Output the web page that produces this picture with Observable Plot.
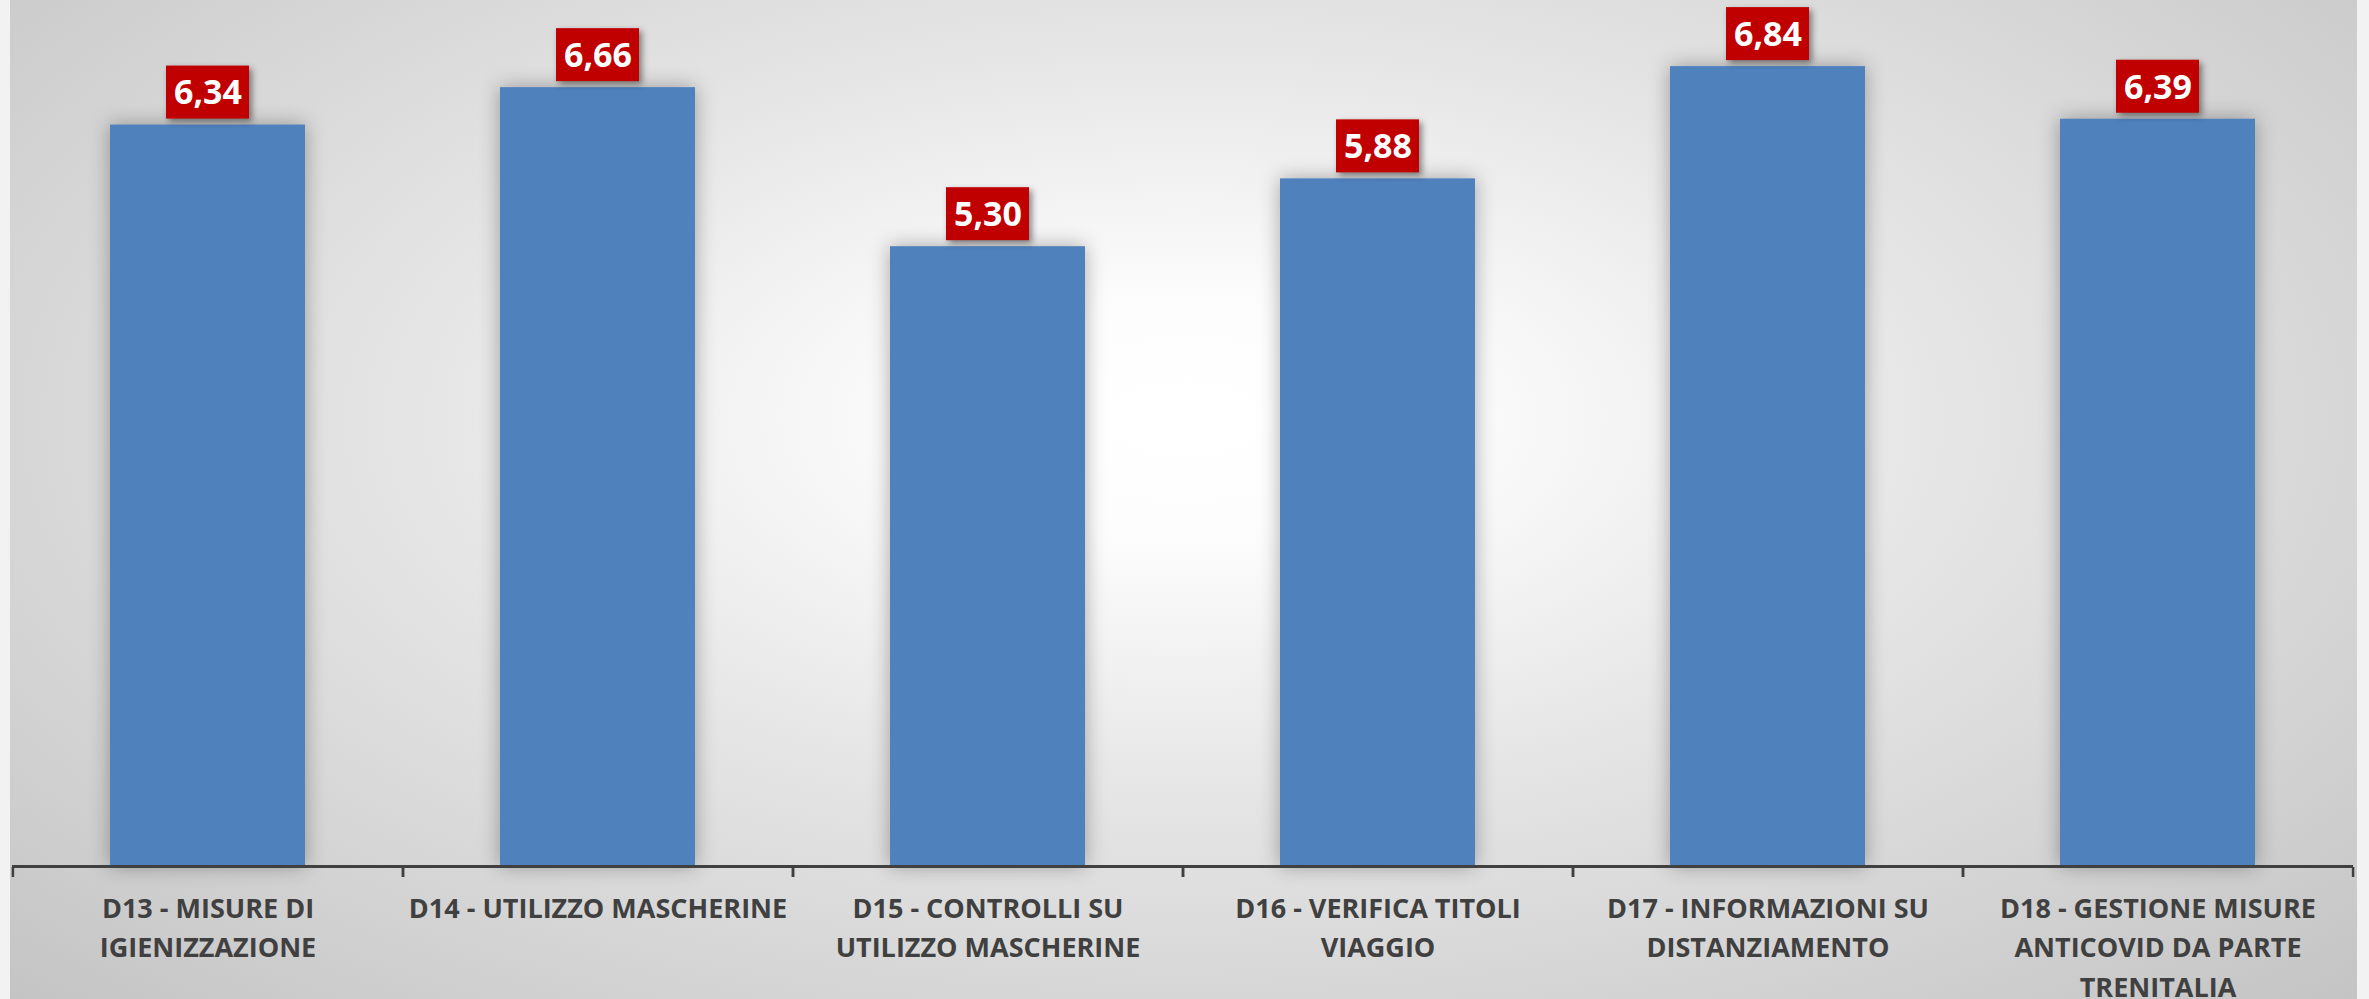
<!DOCTYPE html>
<html>
<head>
<meta charset="utf-8">
<script src="https://cdn.jsdelivr.net/npm/d3@7"></script>
<script src="https://cdn.jsdelivr.net/npm/@observablehq/plot@0.6"></script>
<style>
  html, body { margin: 0; padding: 0; background: #f2f2f2; overflow: hidden; }
  #wrap { position: relative; width: 2369px; height: 999px; overflow: hidden; background: #f2f2f2; }
  #bg { position: absolute; left: 10px; top: 0; width: 2347px; height: 999px;
        background: radial-gradient(ellipse farthest-corner at 50% 42%, #ffffff 0%, #fdfdfd 14%, #e6e6e6 45%, #c4c4c4 100%); }
  #chart { position: absolute; left: 0; top: 0; }
  #chart svg { background: transparent; display: block; }
</style>
</head>
<body>
<div id="wrap"><div id="bg"></div><div id="chart"></div></div>
<script>
const categories = [
  "D13 - MISURE DI\nIGIENIZZAZIONE",
  "D14 - UTILIZZO MASCHERINE",
  "D15 - CONTROLLI SU\nUTILIZZO MASCHERINE",
  "D16 - VERIFICA TITOLI\nVIAGGIO",
  "D17 - INFORMAZIONI SU\nDISTANZIAMENTO",
  "D18 - GESTIONE MISURE\nANTICOVID DA PARTE\nTRENITALIA"
];
const values = [6.34, 6.66, 5.30, 5.88, 6.84, 6.39];
const valueLabels = ["6,34", "6,66", "5,30", "5,88", "6,84", "6,39"];

const data = categories.map((c, i) => ({cat: c, v: values[i], label: valueLabels[i]}));

const W = 2369, H = 999;
const mL = 12, mR = 16, mT = 24, mB = 133;
const step = (W - mL - mR) / categories.length;
const yMax = 7.2;
const pxPerUnit = (H - mT - mB) / yMax;
const boxGap = 6 / pxPerUnit, boxH = 53 / pxPerUnit;

const plot = Plot.plot({
  width: W,
  height: H,
  marginLeft: mL,
  marginRight: mR,
  marginTop: mT,
  marginBottom: mB,
  style: {background: "transparent"},
  x: {domain: categories, paddingInner: 0.5, paddingOuter: 0.25, axis: null, label: null},
  y: {domain: [0, yMax], axis: null, label: null},
  marks: [
    Plot.barY(data, {x: "cat", y: "v", fill: "#4F81BD"}),
    Plot.barY(data, {x: "cat", y1: d => d.v + boxGap, y2: d => d.v + boxGap + boxH,
                     fill: "#C00000", insetLeft: 56, insetRight: 56}),
    Plot.text(data, {x: "cat", y: d => d.v + boxGap + boxH / 2, text: "label",
                     fill: "white", fontSize: 34, fontWeight: "bold",
                     fontFamily: "Open Sans", dy: 1}),
    Plot.ruleY([0], {stroke: "#404040", strokeWidth: 3}),
    Plot.axisX({text: null, label: null, tickSize: 10, dx: -step / 2, dy: 1,
                stroke: "#404040", strokeWidth: 2.5}),
    Plot.axisX({text: null, label: null, tickSize: 10, dx: step / 2, dy: 1,
                stroke: "#404040", strokeWidth: 2.5}),
    Plot.text(data, {x: "cat", y: 0, text: "cat", lineAnchor: "top", dy: 23,
                     lineHeight: 1.47, fill: "#404040", fontSize: 27, fontWeight: "bold",
                     fontFamily: "Open Sans"})
  ]
});

document.getElementById("chart").appendChild(plot);

// soft shadows like the original
plot.querySelectorAll('g[fill="#4F81BD"]').forEach(g => {
  g.style.filter = "drop-shadow(0px 0px 10px rgba(0,0,0,0.32))";
});
plot.querySelectorAll('g[fill="#C00000"]').forEach(g => {
  g.style.filter = "drop-shadow(3px 3px 3px rgba(0,0,0,0.45))";
});
</script>
</body>
</html>
